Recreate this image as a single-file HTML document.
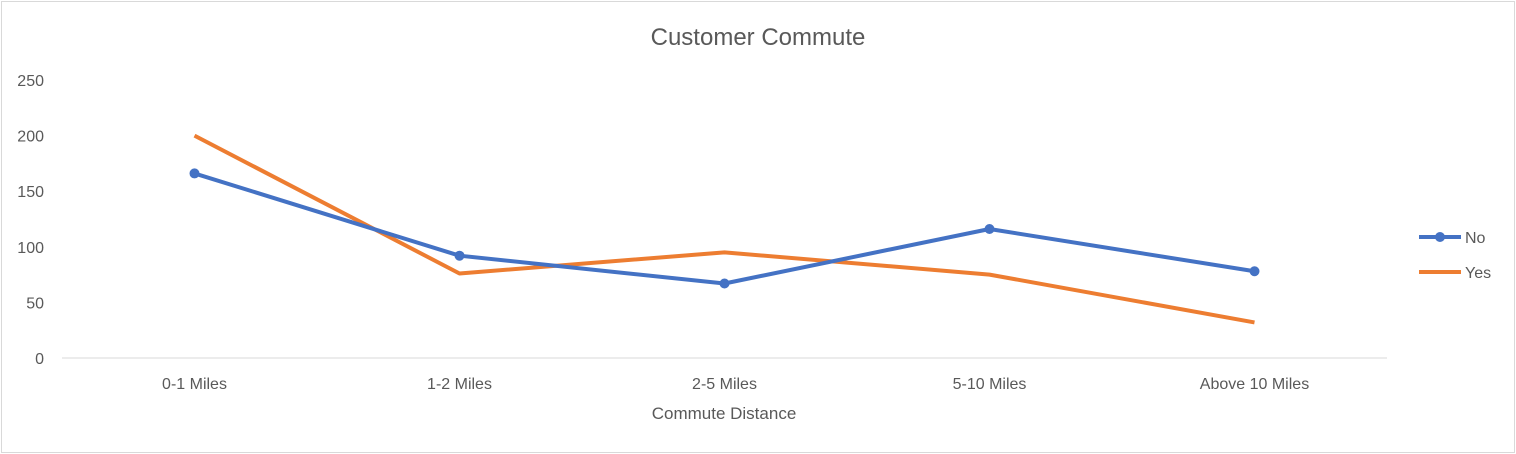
<!DOCTYPE html>
<html><head><meta charset="utf-8"><style>
html,body{margin:0;padding:0;background:#fff;}
svg{display:block;font-family:"Liberation Sans",sans-serif;}
</style></head><body>
<svg id="chart" width="1516" height="454">
<rect x="1.5" y="1.5" width="1513" height="451" fill="#fff" stroke="#d9d9d9"/>
<text x="758" y="45" text-anchor="middle" font-size="24" fill="#595959">Customer Commute</text>
<text x="724" y="419" text-anchor="middle" font-size="17" fill="#595959">Commute Distance</text>
<g id="axes"></g><g id="series"></g>
<g>
<g><line x1="1419" y1="237" x2="1461" y2="237" stroke="#4472c4" stroke-width="4"/><circle cx="1440" cy="237" r="5" fill="#4472c4"/><text x="1465" y="243" font-size="16" fill="#595959">No</text></g>
<g><line x1="1419" y1="272" x2="1461" y2="272" stroke="#ed7d31" stroke-width="4"/><text x="1465" y="278" font-size="16" fill="#595959">Yes</text></g>
</g>
</svg>
<script>
const categories=["0-1 Miles","1-2 Miles","2-5 Miles","5-10 Miles","Above 10 Miles"];
const noValues=[166,92,67,116,78];
const yesValues=[200,76,95,75,32];
const yTicks=[0,50,100,150,200,250];
const NS="http://www.w3.org/2000/svg";
const left=62,right=1387,y0=358,yTop=80,yMax=250;
const bw=(right-left)/categories.length;
const xs=i=>left+bw*(i+0.5);
const ys=v=>y0-(v/yMax)*(y0-yTop);
function mk(t,a,p){const e=document.createElementNS(NS,t);for(const k in a)e.setAttribute(k,a[k]);p.appendChild(e);return e;}
const axes=document.getElementById('axes'),ser=document.getElementById('series');
const ax=mk('line',{x1:left,y1:y0,x2:right,y2:y0,stroke:'#d9d9d9','stroke-width':1},axes);


yTicks.forEach(t=>{const e=mk('text',{x:44,y:ys(t)+6,'text-anchor':'end','font-size':16,fill:'#595959'},axes);e.textContent=t;

});
categories.forEach((c,i)=>{const e=mk('text',{x:xs(i),y:389,'text-anchor':'middle','font-size':16,fill:'#595959'},axes);e.textContent=c;

});
const py=mk('polyline',{points:yesValues.map((v,i)=>xs(i)+','+ys(v)).join(' '),fill:'none',stroke:'#ed7d31','stroke-width':4,'stroke-linejoin':'round'},ser);


const pn=mk('polyline',{points:noValues.map((v,i)=>xs(i)+','+ys(v)).join(' '),fill:'none',stroke:'#4472c4','stroke-width':4,'stroke-linejoin':'round'},ser);


noValues.forEach((v,i)=>{const c=mk('circle',{cx:xs(i),cy:ys(v),r:5,fill:'#4472c4'},ser);

});
</script>
</body></html>
